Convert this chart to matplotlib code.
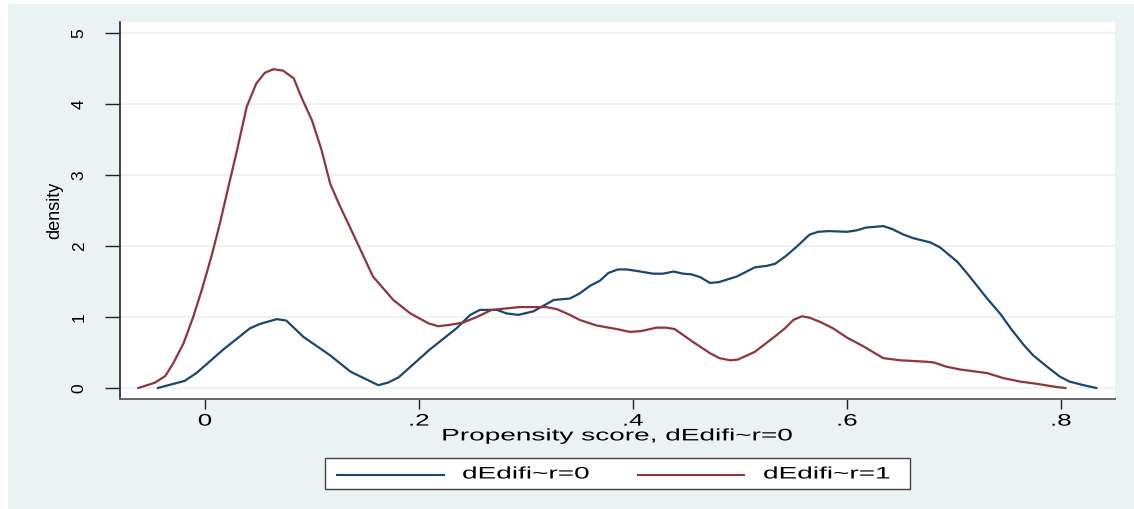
import matplotlib
matplotlib.use('Agg')
import matplotlib.pyplot as plt
from matplotlib.patches import Rectangle
from matplotlib.lines import Line2D
from matplotlib.patheffects import AbstractPathEffect
from matplotlib.transforms import Affine2D

# kernel density of the propensity score, untreated group (dEdifi~r=0)
blue_x = [-0.044, -0.019, -0.008, 0.017, 0.042, 0.051, 0.067, 0.076, 0.092, 0.117,
          0.136, 0.162, 0.171, 0.181, 0.210, 0.235, 0.248, 0.257, 0.273, 0.282,
          0.293, 0.307, 0.326, 0.341, 0.350, 0.360, 0.369, 0.377, 0.386, 0.394,
          0.403, 0.419, 0.428, 0.438, 0.447, 0.455, 0.463, 0.472, 0.480, 0.497,
          0.514, 0.525, 0.533, 0.543, 0.553, 0.565, 0.573, 0.583, 0.600, 0.609,
          0.618, 0.634, 0.642, 0.653, 0.662, 0.678, 0.687, 0.703, 0.712, 0.721,
          0.731, 0.743, 0.754, 0.765, 0.774, 0.787, 0.799, 0.808, 0.821, 0.833]
blue_y = [0.00, 0.10, 0.21, 0.54, 0.84, 0.90, 0.97, 0.95, 0.72, 0.46,
          0.23, 0.04, 0.075, 0.15, 0.54, 0.84, 1.03, 1.10, 1.10, 1.05,
          1.03, 1.08, 1.24, 1.26, 1.33, 1.44, 1.51, 1.62, 1.67, 1.67,
          1.65, 1.61, 1.61, 1.64, 1.61, 1.60, 1.56, 1.48, 1.49, 1.57,
          1.70, 1.72, 1.75, 1.86, 1.99, 2.16, 2.20, 2.21, 2.20, 2.22,
          2.26, 2.28, 2.24, 2.16, 2.11, 2.05, 1.98, 1.78, 1.62, 1.45,
          1.26, 1.05, 0.82, 0.61, 0.46, 0.30, 0.16, 0.09, 0.04, 0.00]

# treated group (dEdifi~r=1)
red_x = [-0.0623, -0.0467, -0.037, -0.0296, -0.020, -0.011, -0.003, 0.006, 0.014, 0.022,
         0.030, 0.039, 0.048, 0.056, 0.064, 0.073, 0.083, 0.090, 0.100, 0.109,
         0.117, 0.125, 0.140, 0.157, 0.176, 0.192, 0.209, 0.218, 0.229, 0.241,
         0.254, 0.268, 0.294, 0.319, 0.329, 0.341, 0.350, 0.366, 0.385, 0.397,
         0.407, 0.422, 0.431, 0.439, 0.456, 0.472, 0.481, 0.491, 0.498, 0.514,
         0.533, 0.542, 0.550, 0.558, 0.565, 0.575, 0.587, 0.600, 0.615, 0.625,
         0.634, 0.650, 0.662, 0.674, 0.681, 0.693, 0.706, 0.726, 0.731, 0.746,
         0.762, 0.777, 0.793, 0.804]
red_y = [0.00, 0.075, 0.17, 0.35, 0.63, 1.00, 1.38, 1.85, 2.32, 2.84,
         3.35, 3.96, 4.29, 4.44, 4.49, 4.47, 4.36, 4.10, 3.77, 3.35,
         2.88, 2.60, 2.12, 1.57, 1.24, 1.05, 0.91, 0.87, 0.89, 0.92,
         1.00, 1.10, 1.14, 1.14, 1.11, 1.03, 0.96, 0.88, 0.83, 0.79,
         0.80, 0.85, 0.85, 0.83, 0.65, 0.49, 0.42, 0.39, 0.40, 0.51,
         0.73, 0.84, 0.96, 1.01, 0.99, 0.93, 0.84, 0.71, 0.59, 0.50,
         0.42, 0.39, 0.38, 0.37, 0.36, 0.30, 0.26, 0.22, 0.21, 0.14,
         0.09, 0.06, 0.02, 0.00]

series_labels = ['dEdifi~r=0', 'dEdifi~r=1']
xticks = [0, 0.2, 0.4, 0.6, 0.8]
xtick_labels = ['0', '.2', '.4', '.6', '.8']
yticks = [0, 1, 2, 3, 4, 5]

NAVY = '#1a476f'
MAROON = '#90353b'
BLUISH = '#eaf2f3'

plt.rcParams['font.family'] = ['Liberation Sans', 'DejaVu Sans']


class Widen(AbstractPathEffect):
    """Stretch text glyphs horizontally, about their centre or left edge."""

    def __init__(self, sx, anchor='center'):
        super().__init__()
        self.sx = sx
        self.anchor = anchor

    def draw_path(self, renderer, gc, tpath, affine, rgbFace=None):
        if self.anchor == 'left':
            x0 = affine.transform((0, 0))[0]
        else:
            ext = tpath.get_extents(affine)
            x0 = (ext.x0 + ext.x1) / 2
        t = affine + Affine2D().translate(-x0, 0).scale(self.sx, 1).translate(x0, 0)
        renderer.draw_path(gc, tpath, t, rgbFace)


W, H = 1134, 509


def fx(px):
    return px / W


def fy(py):
    return 1 - py / H


fig = plt.figure(figsize=(W / 100, H / 100), dpi=100, facecolor='white')
fig.add_artist(Rectangle((fx(8), 0), 1 - fx(8), fy(4), transform=fig.transFigure,
                         facecolor=BLUISH, edgecolor='none', zorder=0))

ax = fig.add_axes([fx(120), fy(399), fx(1115) - fx(120), fy(22) - fy(399)])
ax.set_facecolor('white')
ax.plot(blue_x, blue_y, color=NAVY, lw=1.6, solid_joinstyle='round')
ax.plot(red_x, red_y, color=MAROON, lw=1.6, solid_joinstyle='round')

ax.set_xlim(-0.0794, 0.8505)
ax.set_ylim(-0.155, 5.155)
ax.set_xticks(xticks, labels=xtick_labels)
ax.set_yticks(yticks, labels=[str(v) for v in yticks])
ax.grid(axis='y', color=BLUISH, lw=1.3)
ax.set_axisbelow(True)

for s in ('top', 'right'):
    ax.spines[s].set_visible(False)
ax.spines['left'].set_color('#222222')
ax.spines['bottom'].set_color('#666666')
ax.spines['left'].set_linewidth(1.2)
ax.spines['bottom'].set_linewidth(1.4)

ax.tick_params(axis='y', length=11, width=1, pad=13, labelsize=12.5,
               labelrotation=90, color='#222222')
ax.tick_params(axis='x', length=7, width=1, pad=3.5, labelsize=12, color='#222222')
for lbl in ax.get_yticklabels():
    lbl.set_va('center')
for lbl in ax.get_xticklabels():
    lbl.set_path_effects([Widen(1.55)])

ax.set_ylabel('density', fontsize=13, va='center')
ax.yaxis.set_label_coords(-0.0653, 0.5)
xl = ax.set_xlabel('Propensity score, dEdifi~r=0', fontsize=12)
ax.xaxis.set_label_coords(0.5, -0.078)
xl.set_path_effects([Widen(1.68)])

# legend box below the plot
fig.add_artist(Rectangle((fx(325), fy(489)), fx(910) - fx(325), fy(458) - fy(489),
                         transform=fig.transFigure, facecolor='white',
                         edgecolor='#444444', lw=1))
for (x0, x1, tx), color, label in zip([(337, 444, 462), (638, 744, 763)],
                                      [NAVY, MAROON], series_labels):
    fig.add_artist(Line2D([fx(x0), fx(x1)], [fy(474.5), fy(474.5)],
                          transform=fig.transFigure, color=color, lw=1.5))
    t = fig.text(fx(tx), fy(474), label, fontsize=12, ha='left', va='center')
    t.set_path_effects([Widen(1.68, anchor='left')])

fig.savefig('out.png', dpi=100, facecolor=fig.get_facecolor())
